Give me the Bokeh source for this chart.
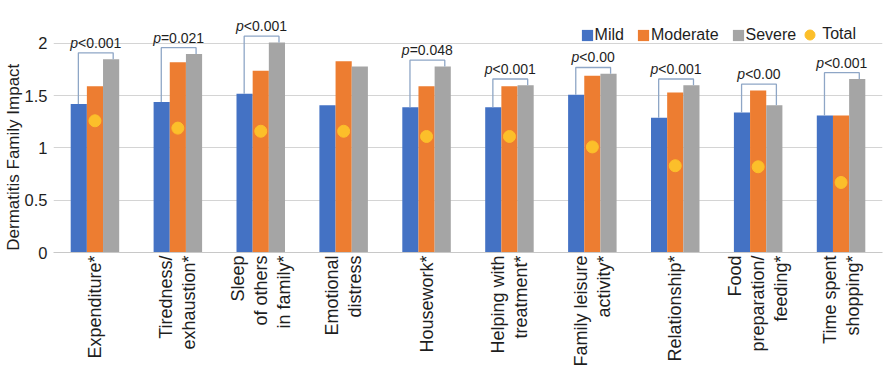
import math
import numpy as np
from bokeh.plotting import figure
from bokeh.models import Range1d, FixedTicker, Legend, LegendItem, NumeralTickFormatter, ColumnDataSource
from bokeh.core.properties import value
from bokeh.embed import file_html
from bokeh.resources import INLINE

categories = ["Expenditure*", "Tiredness/\nexhaustion*", "Sleep\nof others\nin family*",
              "Emotional\ndistress", "Housework*", "Helping with\ntreatment*",
              "Family leisure\nactivity*", "Relationship*", "Food\npreparation/\nfeeding*",
              "Time spent\nshopping*"]
mild = [1.42, 1.44, 1.52, 1.41, 1.39, 1.39, 1.51, 1.29, 1.34, 1.31]
moderate = [1.59, 1.82, 1.74, 1.83, 1.59, 1.59, 1.69, 1.53, 1.55, 1.31]
severe = [1.85, 1.90, 2.01, 1.78, 1.78, 1.60, 1.71, 1.60, 1.41, 1.66]
total = [1.26, 1.19, 1.16, 1.16, 1.11, 1.11, 1.01, 0.83, 0.82, 0.67]
p_values = ["<0.001", "=0.021", "<0.001", "", "=0.048", "<0.001", "<0.00", "<0.001", "<0.00", "<0.001"]
y_ticks = [0, 0.5, 1, 1.5, 2]
y_title = "Dermatitis Family Impact"

FONT = "Liberation Sans"
TXT = "#1e1e1e"
C_MILD, C_MOD, C_SEV, C_TOT = "#4472C4", "#ED7D31", "#A5A5A5", "#FCBF2A"

p = figure(width=887, height=373, output_backend="svg", toolbar_location=None,
           x_range=Range1d(-0.5, 9.5), y_range=Range1d(0, 2.411),
           min_border_left=49, min_border_right=5, min_border_top=0, min_border_bottom=121)
p.outline_line_color = None
p.background_fill_color = "white"

idx = np.arange(len(categories))
bw = 0.195
r_mild = p.vbar(x=idx - bw, top=mild, width=bw, fill_color=C_MILD, line_color=None)
r_mod = p.vbar(x=idx, top=moderate, width=bw, fill_color=C_MOD, line_color=None)
r_sev = p.vbar(x=idx + bw, top=severe, width=bw, fill_color=C_SEV, line_color=None)
r_tot = p.scatter(x=idx, y=total, size=12, marker="circle", fill_color=C_TOT, line_color=C_TOT)

# significance brackets
xs, ys, tx, ty, rest, offs = [], [], [], [], [], []
cw = {"<": 8.2, "=": 8.2, ".": 3.9}
for i, lab in enumerate(p_values):
    if not lab:
        continue
    top = max(mild[i], moderate[i], severe[i]) + 0.06
    xs.append([i - 0.2, i - 0.2, i + 0.22, i + 0.22])
    ys.append([mild[i], top, top, severe[i]])
    tx.append(i + 0.01)
    ty.append(top)
    rest.append(lab)
    wr = sum(cw.get(c, 7.8) for c in lab)
    offs.append((7.8 - wr) / 2)
p.multi_line(xs=xs, ys=ys, line_color="#8EA6C6", line_width=1.3)
src = ColumnDataSource(dict(x=tx, y=ty, rest=rest, off=offs, p=["p"] * len(tx)))
p.text(x="x", y="y", text="p", x_offset="off", y_offset=-2, source=src,
       text_align="right", text_baseline="bottom", text_font=value(FONT),
       text_font_style="italic", text_font_size="14px", text_color=TXT)
p.text(x="x", y="y", text="rest", x_offset="off", y_offset=-2, source=src,
       text_align="left", text_baseline="bottom", text_font=value(FONT),
       text_font_size="14px", text_color=TXT)

# axes
p.xaxis.axis_label = None
p.xaxis.ticker = FixedTicker(ticks=list(idx))
p.xaxis.major_label_overrides = {int(i): c for i, c in zip(idx, categories)}
p.xaxis.major_label_orientation = math.pi / 2
p.xaxis.major_label_standoff = 3
p.xaxis.major_tick_out = 0
p.xaxis.major_tick_in = 0
p.xaxis.minor_tick_out = 0
p.xaxis.minor_tick_in = 0
p.xaxis.major_tick_line_color = None
p.xaxis.minor_tick_line_color = None
p.xaxis.axis_line_color = "#C8C8C8"
p.xaxis.major_label_text_font = FONT
p.xaxis.major_label_text_font_size = "18px"
p.xaxis.major_label_text_line_height = 1.15
p.xaxis.major_label_text_color = TXT

p.yaxis.ticker = FixedTicker(ticks=y_ticks)
p.yaxis.formatter = NumeralTickFormatter(format="0.[0]")
p.yaxis.axis_line_color = None
p.yaxis.major_tick_out = 0
p.yaxis.major_tick_in = 0
p.yaxis.minor_tick_out = 0
p.yaxis.minor_tick_in = 0
p.yaxis.major_tick_line_color = None
p.yaxis.minor_tick_line_color = None
p.yaxis.major_label_standoff = 6
p.yaxis.major_label_text_font = FONT
p.yaxis.major_label_text_font_size = "16.5px"
p.yaxis.major_label_text_color = TXT
# trailing no-break spaces shift the visible title down onto the 0..2 span
p.yaxis.axis_label = y_title + "\u00a0" * 13
p.yaxis.axis_label_text_font = FONT
p.yaxis.axis_label_text_font_size = "17px"
p.yaxis.axis_label_text_font_style = "normal"
p.yaxis.axis_label_text_color = TXT
p.yaxis.axis_label_standoff = -1

p.xgrid.grid_line_color = None
p.ygrid.ticker = FixedTicker(ticks=y_ticks)
p.ygrid.grid_line_color = "#D4D4D4"
p.ygrid.grid_line_width = 1

# legends
leg1 = Legend(items=[LegendItem(label="Mild", renderers=[r_mild]),
                     LegendItem(label="Moderate", renderers=[r_mod]),
                     LegendItem(label="Severe", renderers=[r_sev])],
              orientation="horizontal", location=(526.6, 208.5),
              glyph_width=14, glyph_height=14, label_standoff=1, spacing=12,
              padding=0, margin=0, border_line_color=None, background_fill_alpha=0,
              label_text_font=FONT, label_text_font_size="16px", label_text_color=TXT)
leg2 = Legend(items=[LegendItem(label="Total", renderers=[r_tot])],
              orientation="horizontal", location=(744.2, 205.5),
              glyph_width=25, glyph_height=25, label_standoff=-5, spacing=0,
              padding=0, margin=0, border_line_color=None, background_fill_alpha=0,
              label_text_font=FONT, label_text_font_size="16px", label_text_color=TXT)
p.add_layout(leg1)
p.add_layout(leg2)

open("out.html", "w").write(file_html(p, INLINE))
